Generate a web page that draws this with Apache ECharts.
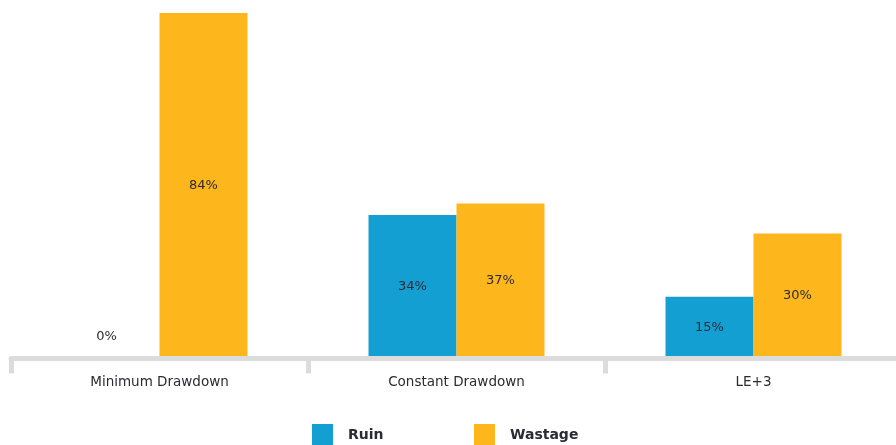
<!DOCTYPE html>
<html>
<head>
<meta charset="utf-8">
<script src="https://cdn.jsdelivr.net/npm/echarts@6/dist/echarts.min.js"></script>
<style>
  html, body { margin: 0; padding: 0; background: #fff; }
  #chart { width: 896px; height: 445px; }
</style>
</head>
<body>
<div id="chart"></div>
<script>
  // values (labels show the truncated percent)
  const categories = ['Minimum Drawdown', 'Constant Drawdown', 'LE+3']
  const ruin = [0, 34.9, 15]
  const wastage = [84, 37.7, 30.4]

  const chart = echarts.init(document.getElementById('chart'))
  const font = 'DejaVu Sans, sans-serif'

  const pct = function (p) {
    return Math.floor(p.value) + '%'
  }

  const labelStyle = {
    show: true,
    position: 'inside',
    color: '#2b2b33',
    fontSize: 13,
    fontFamily: font,
    formatter: pct
  }

  // a zero bar has no inside, so put its label above the axis
  const ruinData = ruin.map(function (v) {
    if (v === 0) {
      return { value: v, label: { position: 'top', distance: 15, offset: [-9, 0] } }
    }
    return v
  })

  const legendText = {
    color: '#2b2b36',
    fontSize: 14,
    fontWeight: 'bold',
    fontFamily: font,
    padding: [1, 0, 0, 10]
  }

  chart.setOption({
    animation: false,
    grid: { left: 11, right: -6, top: 13, bottom: 86.5, outerBoundsMode: 'none' },
    legend: [
      {
        data: ['Ruin'], left: 312, top: 424, padding: 0, itemWidth: 21, itemHeight: 22,
        icon: 'rect', textStyle: legendText, selectedMode: false
      },
      {
        data: ['Wastage'], left: 474, top: 424, padding: 0, itemWidth: 21, itemHeight: 22,
        icon: 'rect', textStyle: legendText, selectedMode: false
      }
    ],
    xAxis: {
      type: 'category',
      data: categories,
      z: 5,
      axisLine: { lineStyle: { color: '#dcdcdc', width: 5 } },
      axisTick: {
        show: true,
        interval: 0,
        alignWithLabel: false,
        length: 15,
        lineStyle: { color: '#dcdcdc', width: 5 }
      },
      axisLabel: { color: '#2b2b33', fontSize: 13.5, fontFamily: font, margin: 17 }
    },
    yAxis: {
      type: 'value',
      min: 0,
      max: 84,
      show: false,
      splitLine: { show: false }
    },
    series: [
      {
        name: 'Ruin',
        type: 'bar',
        barWidth: 88,
        barGap: '0%',
        itemStyle: { color: '#149fd3' },
        label: labelStyle,
        data: ruinData
      },
      {
        name: 'Wastage',
        type: 'bar',
        barWidth: 88,
        itemStyle: { color: '#fdb61b' },
        label: labelStyle,
        data: wastage
      }
    ]
  })
</script>
</body>
</html>
